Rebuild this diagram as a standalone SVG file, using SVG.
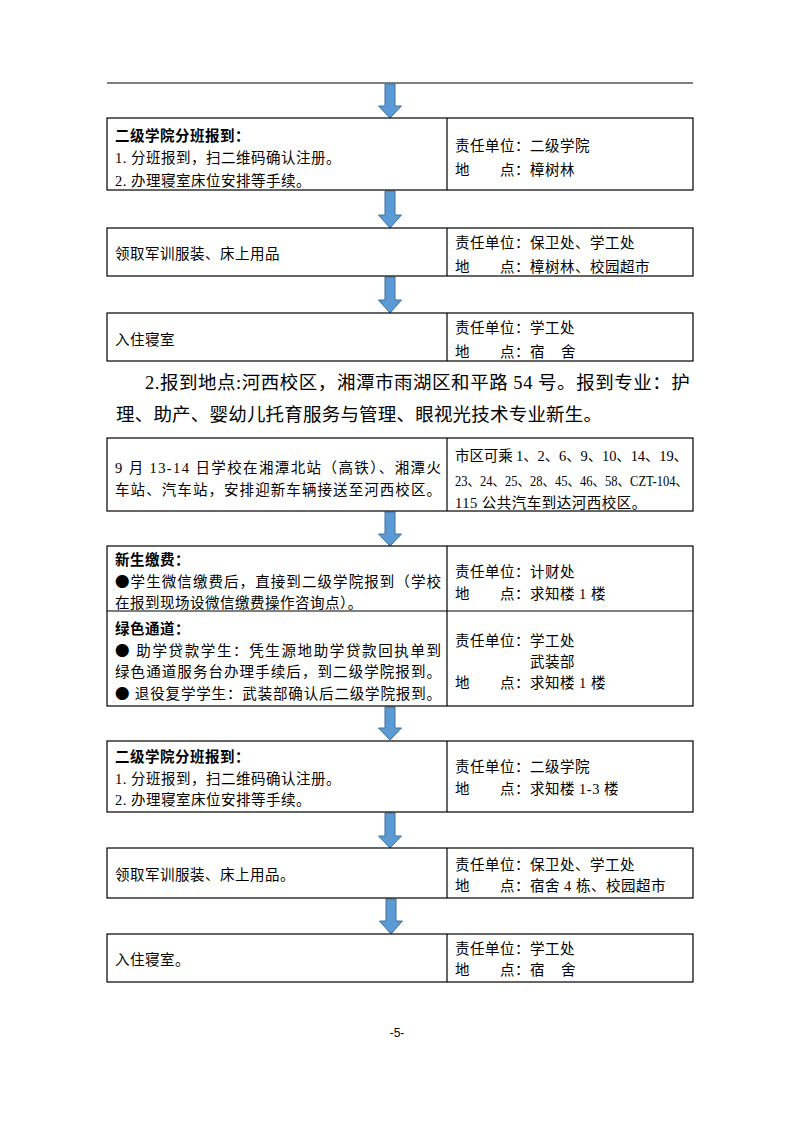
<svg xmlns="http://www.w3.org/2000/svg" width="793" height="1122" viewBox="0 0 793 1122">
<style>
.bg{fill:#fff}
.box{fill:none;stroke:#000;stroke-width:1.2}
.ln{stroke:#000;stroke-width:1.2}
.t{font-family:"Liberation Serif","Noto Sans CJK SC",serif;font-size:14.5px;letter-spacing:0.5px;fill:#000}
.j{letter-spacing:0}
.b{font-weight:bold}
.dot{font-family:"Noto Sans CJK SC",sans-serif}
.p{font-family:"Liberation Serif","Noto Sans CJK SC",serif;font-size:18.5px;letter-spacing:0.2px;fill:#000}
.arrow{fill:#5B9BD5;stroke:#41719C;stroke-width:1}
.pn{font-family:"Liberation Sans",sans-serif;font-size:12px;fill:#000}
</style>
<rect class="bg" x="0" y="0" width="793" height="1122"/>
<line class="ln" x1="107" y1="83" x2="693" y2="83"/>

<g id="connectors">
<polygon class="arrow" points="385,84 395,84 395,106 401.5,106 390,118 378.5,106 385,106"/>
<polygon class="arrow" points="385,191 395,191 395,215 401.5,215 390,228 378.5,215 385,215"/>
<polygon class="arrow" points="385,277 395,277 395,300 401.5,300 390,313 378.5,300 385,300"/>
<polygon class="arrow" points="385,512 395,512 395,534 401.5,534 390,546 378.5,534 385,534"/>
<polygon class="arrow" points="385,707 395,707 395,728 401.5,728 390,740 378.5,728 385,728"/>
<polygon class="arrow" points="385,813 395,813 395,836 401.5,836 390,848 378.5,836 385,836"/>
<polygon class="arrow" points="386,899 396,899 396,921 402.5,921 391,934 379.5,921 386,921"/>
</g>

<g id="node1">
<rect class="box" x="107" y="118" width="586" height="72"/>
<line class="ln" x1="447" y1="118" x2="447" y2="190"/>
<text class="t b" x="115" y="140.5">二级学院分班报到：</text>
<text class="t" x="115" y="163">1. 分班报到，扫二维码确认注册。</text>
<text class="t" x="115" y="186">2. 办理寝室床位安排等手续。</text>
<text class="t" x="455" y="150.5">责任单位：二级学院</text>
<text class="t" x="455" y="174.5">地</text>
<text class="t" x="500" y="174.5">点：樟树林</text>
</g>

<g id="node2">
<rect class="box" x="107" y="228" width="586" height="48"/>
<line class="ln" x1="447" y1="228" x2="447" y2="276"/>
<text class="t" x="115" y="258.5">领取军训服装、床上用品</text>
<text class="t" x="455" y="247.5">责任单位：保卫处、学工处</text>
<text class="t" x="455" y="271.5">地</text>
<text class="t" x="500" y="271.5">点：樟树林、校园超市</text>
</g>

<g id="node3">
<rect class="box" x="107" y="313" width="586" height="48"/>
<line class="ln" x1="447" y1="313" x2="447" y2="361"/>
<text class="t" x="115" y="344.5">入住寝室</text>
<text class="t" x="455" y="332.5">责任单位：学工处</text>
<text class="t" x="455" y="356.5">地</text>
<text class="t" x="500" y="356.5">点：宿</text>
<text class="t" x="561" y="356.5">舍</text>
</g>

<g id="paragraph">
<text class="p j" x="145" y="389" textLength="545" lengthAdjust="spacing">2.报到地点:河西校区，湘潭市雨湖区和平路 54 号。报到专业：护</text>
<text class="p" x="116" y="421">理、助产、婴幼儿托育服务与管理、眼视光技术专业新生。</text>
</g>

<g id="node4">
<rect class="box" x="107" y="438" width="586" height="73"/>
<line class="ln" x1="447" y1="438" x2="447" y2="511"/>
<text class="t j" x="115" y="472.5" textLength="326" lengthAdjust="spacing">9 月 13-14 日学校在湘潭北站（高铁）、湘潭火</text>
<text class="t j" x="115" y="494.5" textLength="326" lengthAdjust="spacing">车站、汽车站，安排迎新车辆接送至河西校区。</text>
<text class="t j" x="455" y="460.5" textLength="233" lengthAdjust="spacing">市区可乘 1、2、6、9、10、14、19、</text>
<text class="t j" x="455" y="485.5" textLength="233" lengthAdjust="spacingAndGlyphs">23、24、25、28、45、46、58、CZT-104、</text>
<text class="t" x="455" y="507.5">115 公共汽车到达河西校区。</text>
</g>

<g id="node5">
<rect class="box" x="107" y="546" width="586" height="160"/>
<line class="ln" x1="447" y1="546" x2="447" y2="706"/>
<line class="ln" x1="107" y1="611" x2="693" y2="611"/>
<text class="t b" x="115" y="564.5">新生缴费：</text>
<text class="t j" x="115" y="586.5" textLength="326" lengthAdjust="spacing"><tspan class="dot">●</tspan>学生微信缴费后，直接到二级学院报到（学校</text>
<text class="t" x="115" y="607.5">在报到现场设微信缴费操作咨询点）。</text>
<text class="t b" x="115" y="633.5">绿色通道：</text>
<text class="t j" x="115" y="655.5" textLength="326" lengthAdjust="spacing"><tspan class="dot">●</tspan> 助学贷款学生：凭生源地助学贷款回执单到</text>
<text class="t j" x="115" y="676.5" textLength="326" lengthAdjust="spacing">绿色通道服务台办理手续后，到二级学院报到。</text>
<text class="t j" x="115" y="698.5" textLength="326" lengthAdjust="spacing"><tspan class="dot">●</tspan> 退役复学学生：武装部确认后二级学院报到。</text>
<text class="t" x="455" y="576.5">责任单位：计财处</text>
<text class="t" x="455" y="598.5">地</text>
<text class="t" x="500" y="598.5">点：求知楼 1 楼</text>
<text class="t" x="455" y="645.5">责任单位：学工处</text>
<text class="t" x="530" y="666.5">武装部</text>
<text class="t" x="455" y="687.5">地</text>
<text class="t" x="500" y="687.5">点：求知楼 1 楼</text>
</g>

<g id="node6">
<rect class="box" x="107" y="741" width="586" height="71"/>
<line class="ln" x1="447" y1="741" x2="447" y2="812"/>
<text class="t b" x="115" y="761.5">二级学院分班报到：</text>
<text class="t" x="115" y="783.5">1. 分班报到，扫二维码确认注册。</text>
<text class="t" x="115" y="804.5">2. 办理寝室床位安排等手续。</text>
<text class="t" x="455" y="771.5">责任单位：二级学院</text>
<text class="t" x="455" y="793.5">地</text>
<text class="t" x="500" y="793.5">点：求知楼 1-3 楼</text>
</g>

<g id="node7">
<rect class="box" x="107" y="848" width="586" height="50"/>
<line class="ln" x1="447" y1="848" x2="447" y2="898"/>
<text class="t" x="115" y="879.5">领取军训服装、床上用品。</text>
<text class="t" x="455" y="869.5">责任单位：保卫处、学工处</text>
<text class="t" x="455" y="890.5">地</text>
<text class="t" x="500" y="890.5">点：宿舍 4 栋、校园超市</text>
</g>

<g id="node8">
<rect class="box" x="107" y="934" width="586" height="48"/>
<line class="ln" x1="447" y1="934" x2="447" y2="982"/>
<text class="t" x="115" y="964.5">入住寝室。</text>
<text class="t" x="455" y="953.5">责任单位：学工处</text>
<text class="t" x="455" y="974.5">地</text>
<text class="t" x="500" y="974.5">点：宿</text>
<text class="t" x="561" y="974.5">舍</text>
</g>

<text class="pn" x="397" y="1037" text-anchor="middle">-5-</text>
</svg>
